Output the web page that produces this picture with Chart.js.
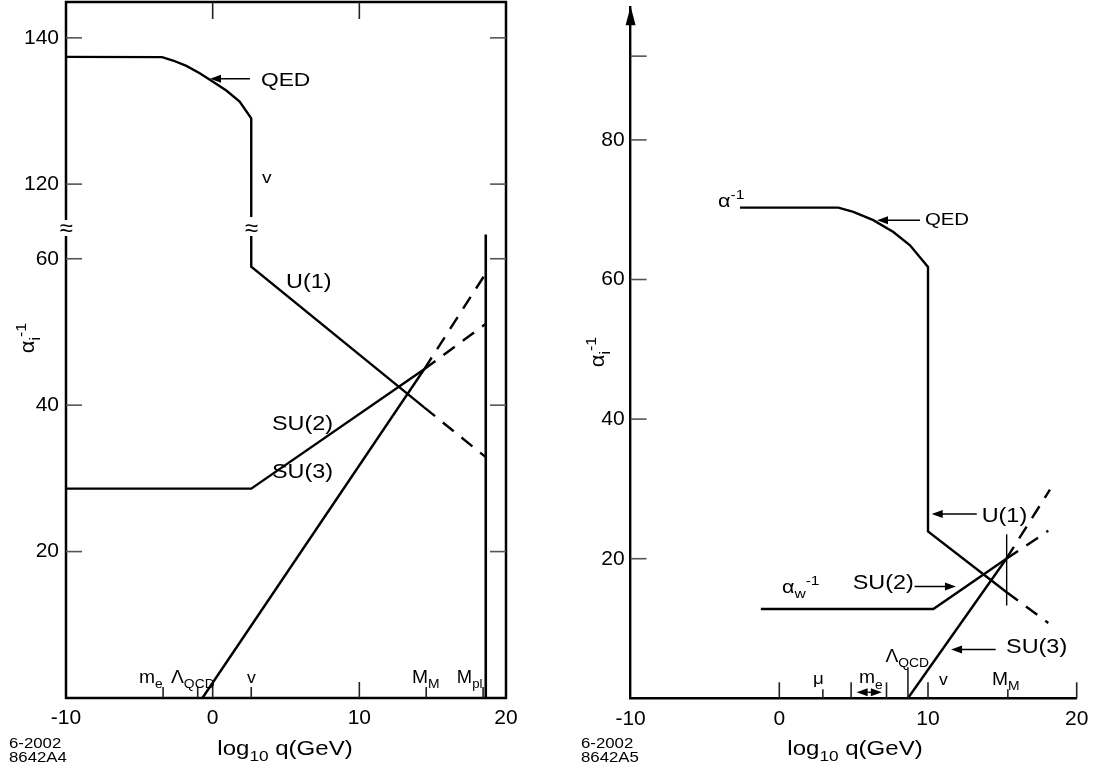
<!DOCTYPE html>
<html><head><meta charset="utf-8">
<script src="https://cdn.jsdelivr.net/npm/chart.js@4.4.1/dist/chart.umd.min.js"></script>
<style>
html,body{margin:0;padding:0;background:#fff;}
#wrap{position:relative;width:1101px;height:769px;overflow:hidden;background:#fff;}
canvas{position:absolute;top:0;}
#cL{left:0;} #cR{left:550px;}
</style></head><body>
<div id="wrap"><canvas id="cL" width="550" height="769"></canvas><canvas id="cR" width="551" height="769"></canvas></div>
<script>
// ---------------- data ----------------
const xTickVals = [-10, 0, 10, 20];
const xMajorMarks = [0, 10];

// Left panel (non-SUSY)
const L_yTicksUpper = [120, 140];
const L_yTicksLower = [20, 40, 60];
const L_qedX = [-10, -3.45, -2.70, -1.79, -0.88, 0.02, 0.93, 1.84, 2.63, 2.63];
const L_qedY = [137.4, 137.36, 136.9, 136.16, 135.16, 134.0, 132.8, 131.3, 129.0, 115.5];
const L_u1X = [2.63, 2.63, 14.42];
const L_u1Y = [63.2, 58.9, 39.7];
const L_u1dX = [14.42, 18.62];
const L_u1dY = [39.7, 32.9];
const L_su2X = [-10, 2.63, 14.42];
const L_su2Y = [28.6, 28.6, 44.9];
const L_su2dX = [14.42, 18.62];
const L_su2dY = [44.9, 51.1];
const L_su3X = [-0.70, 14.42];
const L_su3Y = [0, 44.9];
const L_su3dX = [14.42, 18.62];
const L_su3dY = [44.9, 58.0];
const L_mplX = [18.62, 18.62];
const L_mplY = [63.3, 0];
const L_markX = [-3.38, -1.02, 2.63, 14.56, 18.44];

// Right panel (SUSY)
const R_yTicks = [20, 40, 60, 80, 92];
const R_yTickLabels = ['20', '40', '60', '80', ''];
const R_alphaX = [-2.64, 3.97, 4.98, 6.32, 7.67, 8.79, 10.0, 10.0, 15.29];
const R_alphaY = [70.3, 70.3, 69.7, 68.5, 66.8, 64.9, 61.8, 23.9, 15.2];
const R_u1dX = [15.29, 18.09];
const R_u1dY = [15.2, 10.8];
const R_su2X = [-1.24, 10.36, 15.27];
const R_su2Y = [12.8, 12.8, 20.0];
const R_su2dX = [15.27, 18.09];
const R_su2dY = [20.0, 24.0];
const R_su3X = [8.65, 15.27];
const R_su3Y = [0, 20.0];
const R_su3dX = [15.27, 18.2];
const R_su3dY = [20.0, 29.9];
const R_markerX = [15.29, 15.29];
const R_markerY = [13.3, 23.5];
const R_xMajor = [0, 10, 20];
const R_markX = [2.93, 4.83, 7.21, 8.65, 15.37];
const R_markLen = [9, 16, 16, 31, 9];

// ---------------- annotations ----------------
const FONT = "'Liberation Sans', Arial, Helvetica, sans-serif";
const STRETCH = 1.2;
const L_labels = [
  {segs: [['QED']], x: 3.29, y: 133.4, axis: 'yTop', size: 19},
  {segs: [['v']], x: 3.36, y: 120.1, axis: 'yTop', size: 16},
  {segs: [['U(1)']], x: 5.0, y: 56.0, axis: 'y', size: 19.5},
  {segs: [['SU(2)']], x: 4.04, y: 36.6, axis: 'y', size: 19.5},
  {segs: [['SU(3)']], x: 4.04, y: 30.0, axis: 'y', size: 19.5},
  {segs: [['m'], ['e', 'sub']], x: -5.02, y: 2.05, axis: 'y', size: 17.5, sx: 1.1},
  {segs: [['\u039B'], ['QCD', 'sub']], x: -2.84, y: 2.05, axis: 'y', size: 17.5, sx: 1.1},
  {segs: [['v']], x: 2.34, y: 2.05, axis: 'y', size: 16, sx: 1.1},
  {segs: [['M'], ['M', 'sub']], x: 13.59, y: 2.05, axis: 'y', size: 17.5, sx: 1.1},
  {segs: [['M'], ['pl', 'sub']], x: 16.65, y: 2.05, axis: 'y', size: 17.5, sx: 1.05}
];
const L_arrows = [{from: [2.54, 134.4], to: [-0.18, 134.4], axis: 'yTop'}];

const R_labels = [
  {segs: [['\u03B1'], ['-1', 'sup']], x: -4.12, y: 70.4, size: 18},
  {segs: [['QED']], x: 9.79, y: 67.8, size: 17},
  {segs: [['U(1)']], x: 13.61, y: 25.3, size: 19.5},
  {segs: [['SU(2)']], x: 4.94, y: 15.6, size: 19.5},
  {segs: [['\u03B1'], ['w', 'sub'], ['-1', 'sup']], x: 0.18, y: 15.1, size: 18},
  {segs: [['SU(3)']], x: 15.25, y: 6.5, size: 19.5},
  {segs: [['\u039B'], ['QCD', 'sub']], x: 7.14, y: 5.24, size: 17.5, sx: 1.1},
  {segs: [['\u03BC']], x: 2.27, y: 2.05, size: 17, sx: 1.1},
  {segs: [['m'], ['e', 'sub']], x: 5.36, y: 2.15, size: 17.5, sx: 1.1},
  {segs: [['v']], x: 10.74, y: 1.9, size: 16, sx: 1.1},
  {segs: [['M'], ['M', 'sub']], x: 14.3, y: 1.9, size: 17.5, sx: 1.1}
];
const R_arrows = [
  {from: [9.46, 68.5], to: [6.57, 68.5]},
  {from: [13.28, 26.4], to: [10.25, 26.4]},
  {from: [9.1, 16.0], to: [11.88, 16.0]},
  {from: [14.55, 7.0], to: [11.55, 7.0]},
  {from: [6.0, 0.86], to: [5.2, 0.86]},
  {from: [6.0, 0.86], to: [6.9, 0.86]}
];

// ---------------- helpers ----------------
function pts(xs, ys) { return xs.map((x, i) => ({x: x, y: ys[i]})); }
function ds(xs, ys, axis, dashed, width) {
  return {data: pts(xs, ys), yAxisID: axis, showLine: true, pointRadius: 0, pointHoverRadius: 0,
    borderColor: '#000', backgroundColor: '#000', borderWidth: width || 2.4,
    borderDash: dashed ? [14, 10] : [], tension: 0, fill: false, clip: false};
}
function drawRich(ctx, segs, x, y, size, align, sx) {
  sx = sx || STRETCH;
  const parts = segs.map(s => {
    const kind = s[1] || '';
    const fs = kind ? size * 0.72 : size;
    ctx.font = fs + 'px ' + FONT;
    const w = ctx.measureText(s[0]).width * sx;
    const dy = kind === 'sub' ? size * 0.3 : (kind === 'sup' ? -size * 0.42 : 0);
    return {t: s[0], fs, w, dy};
  });
  const total = parts.reduce((a, p) => a + p.w, 0);
  let cx = align === 'center' ? x - total / 2 : (align === 'right' ? x - total : x);
  ctx.textAlign = 'left'; ctx.textBaseline = 'alphabetic'; ctx.fillStyle = '#000';
  for (const p of parts) {
    ctx.save(); ctx.translate(cx, y + p.dy); ctx.scale(sx, 1);
    ctx.font = p.fs + 'px ' + FONT; ctx.fillText(p.t, 0, 0);
    ctx.restore(); cx += p.w;
  }
}
function seg(ctx, x1, y1, x2, y2) { ctx.beginPath(); ctx.moveTo(x1, y1); ctx.lineTo(x2, y2); ctx.stroke(); }
function arrow(ctx, x1, y1, x2, y2) {
  const ang = Math.atan2(y2 - y1, x2 - x1), L = 11, W = 4;
  ctx.strokeStyle = '#000'; ctx.lineWidth = 1.5;
  seg(ctx, x1, y1, x2 - L * 0.7 * Math.cos(ang), y2 - L * 0.7 * Math.sin(ang));
  ctx.beginPath(); ctx.moveTo(x2, y2);
  ctx.lineTo(x2 - L * Math.cos(ang) + W * Math.sin(ang), y2 - L * Math.sin(ang) - W * Math.cos(ang));
  ctx.lineTo(x2 - L * Math.cos(ang) - W * Math.sin(ang), y2 - L * Math.sin(ang) + W * Math.cos(ang));
  ctx.closePath(); ctx.fillStyle = '#000'; ctx.fill();
}
function tickFont() { return {family: FONT, size: 21}; }
function yTitle(ctx, cx, cy) {
  ctx.save(); ctx.translate(cx, cy); ctx.rotate(-Math.PI / 2);
  drawRich(ctx, [['\u03B1'], ['i', 'sub'], ['-1', 'sup']], 0, 6, 20, 'center', 1.1);
  ctx.restore();
}
function xTitle(ctx, cx, by) {
  drawRich(ctx, [['log'], ['10', 'sub'], [' q(GeV)']], cx, by, 20, 'center');
}
function codeText(ctx, x, l1, l2) {
  drawRich(ctx, [[l1]], x, 748, 14, 'left');
  drawRich(ctx, [[l2]], x, 762, 14, 'left');
}
function fixVertical(width) { return s => { s.width = width; s.paddingTop = 0; s.paddingBottom = 0; }; }
function fixHorizontal(height) { return s => { s.height = height; s.paddingLeft = 0; s.paddingRight = 0; }; }

// ---------------- left chart ----------------
const leftDecor = {
  id: 'leftDecor',
  afterDraw(chart) {
    const {ctx, chartArea: a} = chart;
    const sx = chart.scales.x, sy = chart.scales.y, st = chart.scales.yTop;
    const X = v => sx.getPixelForValue(v);
    const Y = (ax, v) => (ax === 'yTop' ? st : sy).getPixelForValue(v);
    ctx.save();
    ctx.strokeStyle = '#000'; ctx.lineWidth = 2.5;
    ctx.strokeRect(a.left, a.top, a.right - a.left, a.bottom - a.top);
    ctx.strokeStyle = '#555'; ctx.lineWidth = 1.6;
    for (const [sc, vals] of [[st, L_yTicksUpper], [sy, L_yTicksLower]]) {
      for (const v of vals) { const p = sc.getPixelForValue(v); seg(ctx, a.left, p, a.left + 16, p); seg(ctx, a.right - 16, p, a.right, p); }
    }
    ctx.strokeStyle = '#222';
    for (const v of xMajorMarks) { seg(ctx, X(v), a.bottom, X(v), a.bottom - 16); seg(ctx, X(v), a.top, X(v), a.top + 17); }
    for (const v of L_markX) seg(ctx, X(v), a.bottom, X(v), a.bottom - 11);
    // axis breaks
    const by = sy.top;
    for (const bx of [a.left, X(L_u1X[0])]) {
      ctx.fillStyle = '#fff'; ctx.fillRect(bx - 7, by - 8, 14, 16);
      ctx.fillStyle = '#000'; ctx.font = '24px ' + FONT; ctx.textAlign = 'center'; ctx.textBaseline = 'middle';
      ctx.fillText('\u2248', bx, by + 1);
    }
    for (const l of L_labels) drawRich(ctx, l.segs, X(l.x), Y(l.axis, l.y), l.size, 'left', l.sx);
    for (const ar of L_arrows) arrow(ctx, X(ar.from[0]), Y(ar.axis, ar.from[1]), X(ar.to[0]), Y(ar.axis, ar.to[1]));
    yTitle(ctx, 28, 338);
    xTitle(ctx, 285, 755);
    codeText(ctx, 9, '6-2002', '8642A4');
    ctx.restore();
  }
};

new Chart(document.getElementById('cL'), {
  type: 'scatter',
  data: {datasets: [
    ds(L_qedX, L_qedY, 'yTop'),
    ds(L_u1X, L_u1Y, 'y'),
    ds(L_u1dX, L_u1dY, 'y', true),
    ds(L_su2X, L_su2Y, 'y'),
    ds(L_su2dX, L_su2dY, 'y', true),
    ds(L_su3X, L_su3Y, 'y'),
    ds(L_su3dX, L_su3dY, 'y', true),
    ds(L_mplX, L_mplY, 'y', false, 2.6)
  ]},
  options: {
    responsive: false, animation: false, devicePixelRatio: 1, events: [],
    layout: {padding: {left: 0, top: 2, right: 44, bottom: 0}},
    plugins: {legend: {display: false}, tooltip: {enabled: false}},
    scales: {
      x: {type: 'linear', min: -10, max: 20,
        afterBuildTicks: s => { s.ticks = xTickVals.map(v => ({value: v})); },
        ticks: {font: tickFont(), color: '#000', padding: 8, maxRotation: 0},
        grid: {display: false, drawTicks: false}, border: {display: false},
        afterFit: fixHorizontal(71)},
      yTop: {type: 'linear', position: 'left', stack: 'L', stackWeight: 226, weight: 1, min: 114.0, max: 144.9,
        afterBuildTicks: s => { s.ticks = L_yTicksUpper.map(v => ({value: v})); },
        ticks: {font: tickFont(), color: '#000', padding: 7},
        grid: {display: false, drawTicks: false}, border: {display: false},
        afterFit: fixVertical(66)},
      y: {type: 'linear', position: 'left', stack: 'L', stackWeight: 470, weight: 0, min: 0, max: 64.2,
        afterBuildTicks: s => { s.ticks = L_yTicksLower.map(v => ({value: v})); },
        ticks: {font: tickFont(), color: '#000', padding: 7},
        grid: {display: false, drawTicks: false}, border: {display: false},
        afterFit: fixVertical(66)}
    }
  },
  plugins: [leftDecor]
});

// ---------------- right chart ----------------
const rightDecor = {
  id: 'rightDecor',
  afterDraw(chart) {
    const {ctx, chartArea: a} = chart;
    const sx = chart.scales.x, sy = chart.scales.y;
    const X = v => sx.getPixelForValue(v), Y = v => sy.getPixelForValue(v);
    ctx.save();
    ctx.fillStyle = '#000';
    ctx.beginPath(); ctx.moveTo(a.left, a.top - 1); ctx.lineTo(a.left - 5, a.top + 18); ctx.lineTo(a.left + 5, a.top + 18); ctx.closePath(); ctx.fill();
    ctx.strokeStyle = '#555'; ctx.lineWidth = 1.6;
    for (const v of R_yTicks) { const p = Y(v); seg(ctx, a.left, p, a.left + 16, p); }
    ctx.strokeStyle = '#222';
    for (const v of R_xMajor) seg(ctx, X(v), a.bottom, X(v), a.bottom - 16);
    R_markX.forEach((v, i) => seg(ctx, X(v), a.bottom, X(v), a.bottom - R_markLen[i]));
    for (const l of R_labels) drawRich(ctx, l.segs, X(l.x), Y(l.y), l.size, 'left', l.sx);
    for (const ar of R_arrows) arrow(ctx, X(ar.from[0]), Y(ar.from[1]), X(ar.to[0]), Y(ar.to[1]));
    yTitle(ctx, 48, 352);
    xTitle(ctx, 305, 755);
    codeText(ctx, 31, '6-2002', '8642A5');
    ctx.restore();
  }
};

new Chart(document.getElementById('cR'), {
  type: 'scatter',
  data: {datasets: [
    ds(R_alphaX, R_alphaY, 'y'),
    ds(R_u1dX, R_u1dY, 'y', true),
    ds(R_su2X, R_su2Y, 'y'),
    ds(R_su2dX, R_su2dY, 'y', true),
    ds(R_su3X, R_su3Y, 'y'),
    ds(R_su3dX, R_su3dY, 'y', true),
    ds(R_markerX, R_markerY, 'y', false, 1.4)
  ]},
  options: {
    responsive: false, animation: false, devicePixelRatio: 1, events: [],
    layout: {padding: {left: 0, top: 7.3, right: 24.3, bottom: 0}},
    plugins: {legend: {display: false}, tooltip: {enabled: false}},
    scales: {
      x: {type: 'linear', min: -10, max: 20,
        afterBuildTicks: s => { s.ticks = xTickVals.map(v => ({value: v})); },
        ticks: {font: tickFont(), color: '#000', padding: 8, maxRotation: 0},
        grid: {display: false, drawTicks: false}, border: {display: true, color: '#000', width: 2.4},
        afterFit: fixHorizontal(70.7)},
      y: {type: 'linear', position: 'left', min: 0, max: 99,
        afterBuildTicks: s => { s.ticks = R_yTicks.map(v => ({value: v})); },
        ticks: {font: tickFont(), color: '#000', padding: 6, callback: (v, i) => R_yTickLabels[i]},
        grid: {display: false, drawTicks: false}, border: {display: true, color: '#000', width: 2.4},
        afterFit: fixVertical(80.6)}
    }
  },
  plugins: [rightDecor]
});
</script>
</body></html>
